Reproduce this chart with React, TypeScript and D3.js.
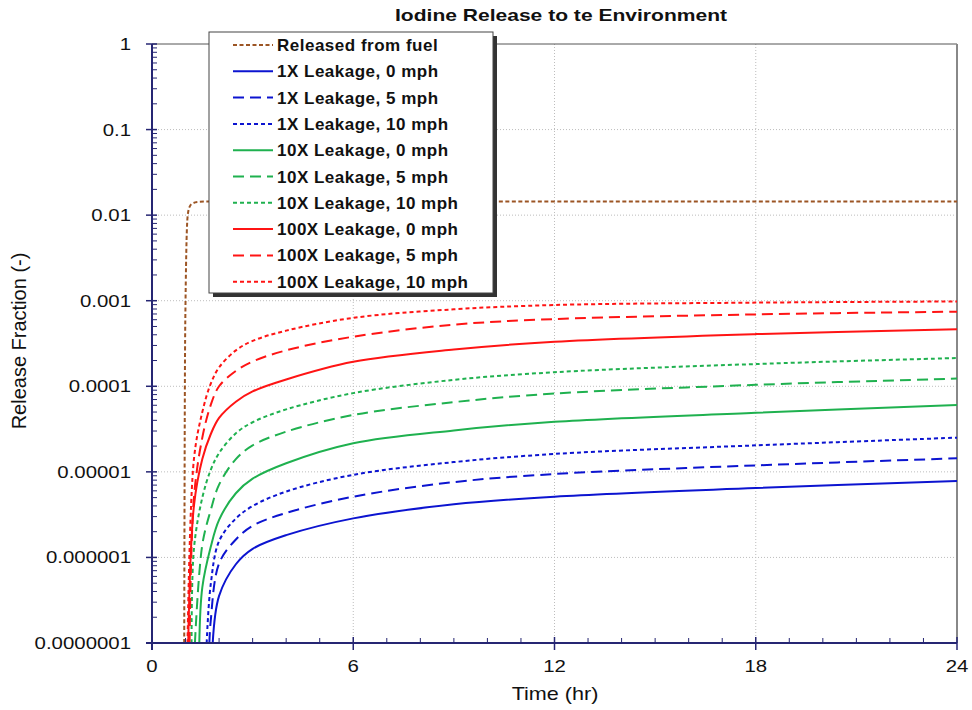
import React from 'react';
import * as d3 from 'd3';

// time grid (hr) shared by the leakage curves
const hours = [1.25, 1.5, 1.75, 2, 2.5, 3, 4, 6, 9, 12, 18, 24];

// release from fuel (own time grid, steep rise near 1 hr)
const fuelHours = [0.96, 0.98, 1.0, 1.06, 1.12, 1.2, 1.35, 1.6, 24];
const fuelValues = [1e-7, 1e-4, 1e-3, 0.0095, 0.0125, 0.0136, 0.0142, 0.0144, 0.0144];

// leakage curves, value at each entry of `hours` (null = not yet released)
const leak1x0 = [null, null, null, 3.55e-7, 8.32e-7, 1.26e-6, 1.82e-6, 2.86e-6, 4.17e-6, 5.13e-6, 6.46e-6, 7.82e-6];
const leak1x5 = [null, null, 1.8e-7, 8.5e-7, 1.62e-6, 2.34e-6, 3.31e-6, 5.13e-6, 7.59e-6, 9.44e-6, 1.19e-5, 1.44e-5];
const leak1x10 = [null, null, 4.8e-7, 1.55e-6, 2.85e-6, 3.98e-6, 5.89e-6, 9.23e-6, 1.3e-5, 1.62e-5, 2.04e-5, 2.51e-5];
const leak10x0 = [null, 4.47e-7, 1.32e-6, 2.75e-6, 5.62e-6, 8.32e-6, 1.26e-5, 2.16e-5, 3.05e-5, 3.85e-5, 4.9e-5, 6.03e-5];
const leak10x5 = [null, 1.41e-6, 3.55e-6, 7.08e-6, 1.41e-5, 2.04e-5, 2.95e-5, 4.62e-5, 6.53e-5, 8.22e-5, 1.04e-4, 1.23e-4];
const leak10x10 = [1.26e-6, 5.0e-6, 1.05e-5, 1.66e-5, 2.82e-5, 3.8e-5, 5.37e-5, 8.32e-5, 1.19e-4, 1.46e-4, 1.82e-4, 2.14e-4];
const leak100x0 = [4.0e-6, 1.41e-5, 2.75e-5, 4.27e-5, 6.61e-5, 8.71e-5, 1.2e-4, 1.93e-4, 2.69e-4, 3.31e-4, 4.07e-4, 4.63e-4];
const leak100x5 = [5.0e-6, 2.51e-5, 6.03e-5, 1.0e-4, 1.51e-4, 1.95e-4, 2.63e-4, 3.8e-4, 5.25e-4, 6.1e-4, 6.92e-4, 7.45e-4];
const leak100x10 = [1.41e-5, 5.0e-5, 1.07e-4, 1.66e-4, 2.63e-4, 3.39e-4, 4.47e-4, 6.31e-4, 7.94e-4, 8.91e-4, 9.5e-4, 9.8e-4];

// hour at which each leakage curve leaves the bottom of the axis
const startHours = [1.81, 1.71, 1.63, 1.41, 1.28, 1.18, 1.08, 1.12, 1.06];

const seriesNames = [
  '1X Leakage, 0 mph', '1X Leakage, 5 mph', '1X Leakage, 10 mph',
  '10X Leakage, 0 mph', '10X Leakage, 5 mph', '10X Leakage, 10 mph',
  '100X Leakage, 0 mph', '100X Leakage, 5 mph', '100X Leakage, 10 mph',
];
const seriesValues = [leak1x0, leak1x5, leak1x10, leak10x0, leak10x5, leak10x10, leak100x0, leak100x5, leak100x10];

const yTickValues = [1e-7, 1e-6, 1e-5, 1e-4, 1e-3, 1e-2, 1e-1, 1];
const yTickLabels = ['0.0000001', '0.000001', '0.00001', '0.0001', '0.001', '0.01', '0.1', '1'];
const xTickValues = [0, 6, 12, 18, 24];
const xTickLabels = ['0', '6', '12', '18', '24'];

const FUEL = '#9c5524';
const BLUE = '#0c14d0';
const GREEN = '#1fb14f';
const RED = '#ff1414';
const AXIS = '#262673';
const FONT = 'Arial, "Liberation Sans", sans-serif';

const colorFor = (i: number) => [BLUE, GREEN, RED][Math.floor(i / 3)];
const dashFor = (i: number) => ['none', '11,6', '4,3'][i % 3];

export default function App() {
  const left = 152, right = 957, top = 44, bottom = 643;

  const x = d3.scaleLinear().domain([0, 24]).range([left, right]);
  const y = d3.scaleLog().domain([1e-7, 1]).range([bottom, top]);

  const line = d3.line<[number, number]>()
    .x(d => x(d[0]))
    .y(d => y(d[1]))
    .curve(d3.curveCatmullRom.alpha(0.5));

  const fuelPath = d3.line<[number, number]>()
    .x(d => x(d[0]))
    .y(d => y(d[1]))
    .curve(d3.curveMonotoneX)(fuelHours.map((h, i) => [h, fuelValues[i]] as [number, number]));
  const curves = seriesValues.map((vals, i) => {
    const pts: [number, number][] = [[startHours[i], 1e-7]];
    hours.forEach((h, j) => {
      if (vals[j] != null) pts.push([h, vals[j] as number]);
    });
    return line(pts);
  });

  // minor log ticks
  const minorY: number[] = [];
  for (let e = -7; e < 0; e++) {
    for (let k = 2; k <= 9; k++) minorY.push(k * Math.pow(10, e));
  }
  const minorX = d3.range(1, 24).filter(h => h % 6 !== 0);

  const legendItems = [{ name: 'Released from fuel', color: FUEL, dash: '4,2.5' }]
    .concat(seriesNames.map((n, i) => ({ name: n, color: colorFor(i), dash: dashFor(i) })));

  return (
    <svg width={972} height={710} style={{ position: 'fixed', left: 0, top: 0, background: '#fff' }}
      fontFamily={FONT}>
      <defs>
        <clipPath id="plot">
          <rect x={left} y={top} width={right - left} height={bottom - top} />
        </clipPath>
      </defs>

      {/* grid */}
      {yTickValues.slice(1, -1).map(v => (
        <line key={'gy' + v} x1={left} x2={right} y1={y(v)} y2={y(v)}
          stroke="#bdbdbd" strokeWidth={1} strokeDasharray="1,2" />
      ))}
      {[6, 12, 18].map(h => (
        <line key={'gx' + h} x1={x(h)} x2={x(h)} y1={top} y2={bottom}
          stroke="#bdbdbd" strokeWidth={1} strokeDasharray="1,2" />
      ))}

      {/* frame */}
      <line x1={left} x2={right} y1={top} y2={top} stroke="#555" strokeWidth={1} />
      <line x1={right} x2={right} y1={top} y2={bottom} stroke="#888" strokeWidth={2} />

      {/* curves */}
      <g clipPath="url(#plot)" fill="none">
        <path d={fuelPath || ''} stroke={FUEL} strokeWidth={2} strokeDasharray="4,2.5" />
        {curves.map((d, i) => (
          <path key={i} d={d || ''} stroke={colorFor(i)} strokeWidth={2}
            strokeDasharray={dashFor(i)} />
        ))}
      </g>

      {/* y axis */}
      <line x1={left} x2={left} y1={top} y2={bottom + 7} stroke={AXIS} strokeWidth={2} />
      {yTickValues.map(v => (
        <line key={'ty' + v} x1={left - 6} x2={left + 5} y1={y(v)} y2={y(v)} stroke={AXIS} strokeWidth={1.5} />
      ))}
      {minorY.map(v => (
        <line key={'my' + v} x1={left} x2={left + 5} y1={y(v)} y2={y(v)} stroke={AXIS} strokeWidth={1} />
      ))}
      {yTickValues.map((v, i) => (
        <text key={'ly' + v} transform={`translate(131,${y(v) + 6}) scale(1.2,1)`}
          textAnchor="end" fontSize={17} fill="#111">{yTickLabels[i]}</text>
      ))}

      {/* x axis */}
      <line x1={left - 6} x2={right} y1={bottom} y2={bottom} stroke={AXIS} strokeWidth={2} />
      {xTickValues.map(h => (
        <line key={'tx' + h} x1={x(h)} x2={x(h)} y1={bottom - 6} y2={bottom + 7} stroke={AXIS} strokeWidth={1.5} />
      ))}
      {minorX.map(h => (
        <line key={'mx' + h} x1={x(h)} x2={x(h)} y1={bottom - 5} y2={bottom} stroke={AXIS} strokeWidth={1} />
      ))}
      {xTickValues.map((h, i) => (
        <text key={'lx' + h} transform={`translate(${x(h)},672) scale(1.2,1)`}
          textAnchor="middle" fontSize={17} fill="#111">{xTickLabels[i]}</text>
      ))}

      {/* titles */}
      <text x={561} y={21} textAnchor="middle" fontSize={17} fontWeight="bold" fill="#111"
        textLength={332} lengthAdjust="spacingAndGlyphs">Iodine Release to te Environment</text>
      <text transform="translate(555,700) scale(1.2,1)" textAnchor="middle" fontSize={18} fill="#111">Time (hr)</text>
      <text transform="translate(26,341) rotate(-90)" textAnchor="middle" fontSize={20} fill="#111">Release Fraction (-)</text>

      {/* legend */}
      <rect x={213} y={36} width={284} height={261} fill="#333" />
      <rect x={209} y={32} width={284} height={261} fill="#fff" stroke="#444" strokeWidth={1} />
      {legendItems.map((it, i) => {
        const ly = 45 + i * 26.3;
        return (
          <g key={'lg' + i}>
            <line x1={233} x2={273} y1={ly} y2={ly} stroke={it.color} strokeWidth={2}
              strokeDasharray={it.dash} />
            <text x={277} y={ly + 6} fontSize={17} fontWeight="bold" letterSpacing={0.5} fill="#111">{it.name}</text>
          </g>
        );
      })}
    </svg>
  );
}
